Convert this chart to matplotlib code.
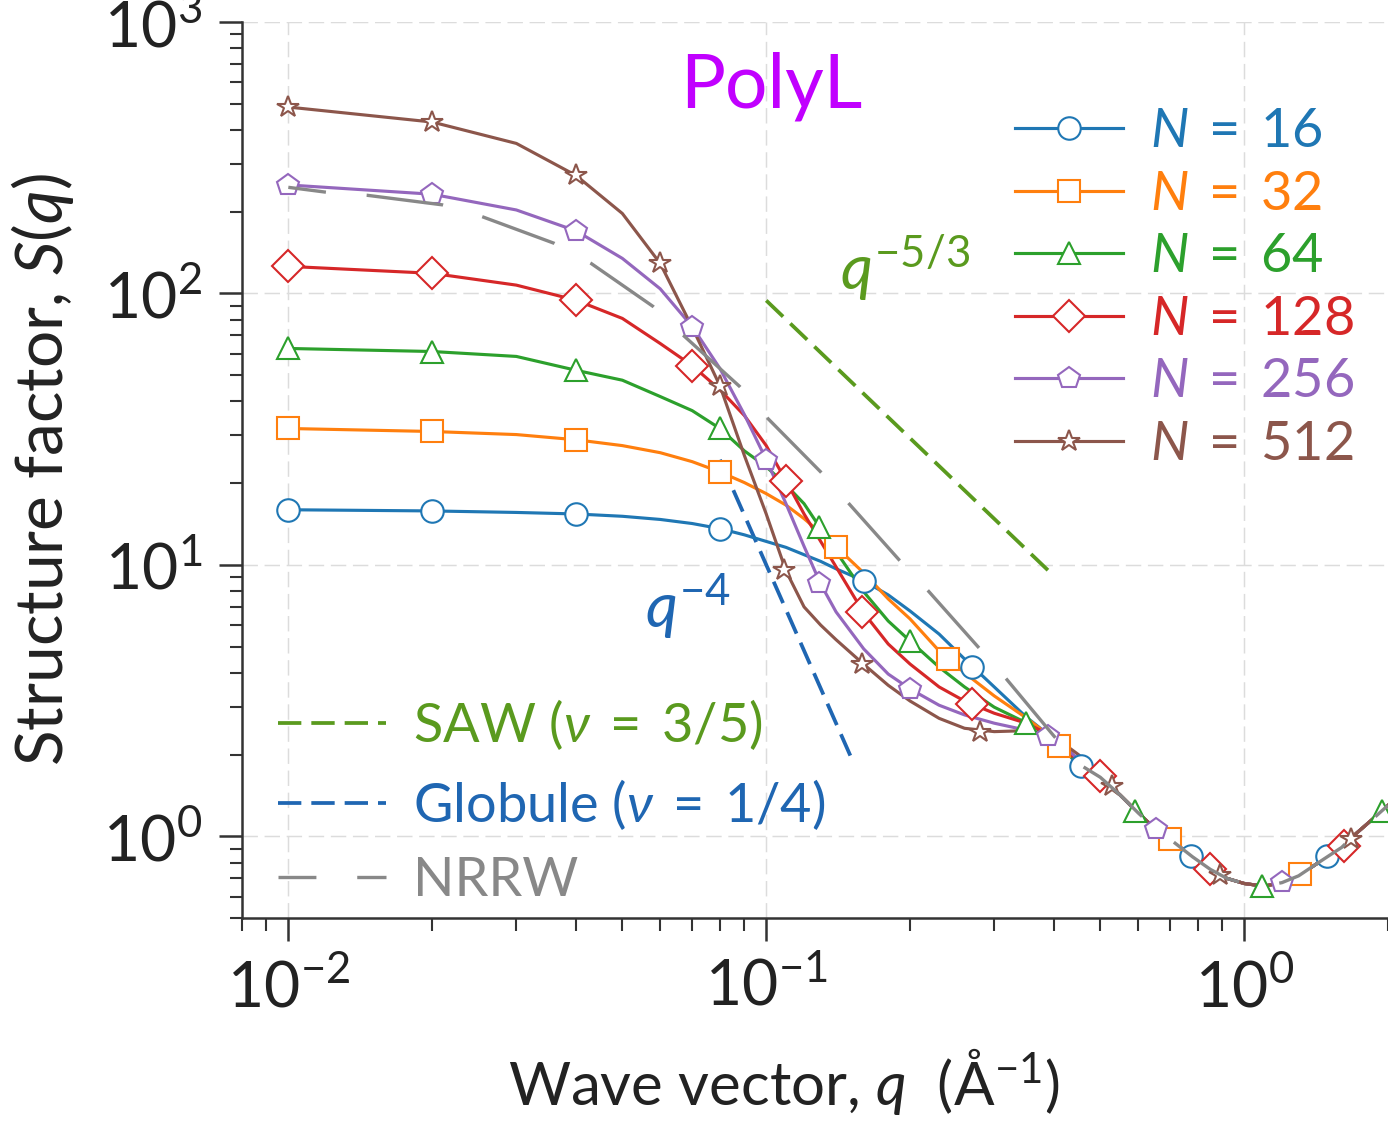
import matplotlib
matplotlib.use("Agg")
import matplotlib.pyplot as plt
from matplotlib.lines import Line2D

plt.rcParams['font.family'] = ['Lato', 'DejaVu Sans']
plt.rcParams['mathtext.fontset'] = 'custom'
plt.rcParams['mathtext.rm'] = 'Lato'
plt.rcParams['mathtext.it'] = 'Lato:italic'
plt.rcParams['mathtext.bf'] = 'Lato:bold'
plt.rcParams['lines.scale_dashes'] = False

# ---- data ----
q_lo = [0.01, 0.02, 0.03, 0.04, 0.05, 0.06, 0.07, 0.08, 0.09, 0.10, 0.11, 0.12,
        0.13, 0.14, 0.16, 0.18, 0.20, 0.23, 0.26, 0.30, 0.35, 0.40, 0.45, 0.50]
S16 = [15.96, 15.8, 15.6, 15.4, 15.1, 14.7, 14.2, 13.6, 12.9, 12.2, 11.6, 10.9,
       10.3, 9.67, 8.73, 7.75, 6.76, 5.56, 4.50, 3.55, 2.75, 2.28, 1.83, 1.65]
S32 = [31.8, 31.0, 30.2, 28.9, 27.5, 25.9, 24.0, 22.0, 20.1, 18.3, 16.6, 14.8,
       13.1, 11.65, 9.34, 7.49, 6.32, 4.82, 4.0, 3.29, 2.73, 2.28, 1.85, 1.65]
S64 = [62.7, 61.1, 58.6, 52.1, 47.9, 41.7, 37.0, 31.8, 26.3, 23.0, 19.7, 16.8,
       13.6, 11.2, 7.95, 6.21, 5.24, 4.20, 3.55, 2.99, 2.62, 2.28, 1.85, 1.65]
S128 = [125.8, 118.6, 107.3, 94.4, 80.9, 65.4, 54.2, 44.2, 35.5, 27.5, 20.4, 15.4,
        12.2, 9.83, 6.65, 5.11, 4.31, 3.55, 3.15, 2.84, 2.61, 2.32, 1.88, 1.67]
S256 = [251, 232, 203, 170, 134.6, 104, 75.5, 52.9, 35.8, 24.4, 16.8, 11.7,
        8.5, 6.71, 4.90, 3.96, 3.49, 3.04, 2.80, 2.61, 2.46, 2.32, 1.92, 1.66]
S512 = [486, 428, 357, 272, 197, 129, 75, 45.7, 25.3, 15.4, 9.5, 7.0,
        6.0, 5.3, 4.3, 3.6, 3.15, 2.72, 2.5, 2.43, 2.45, 2.33, 2.0, 1.68]

# all chains collapse onto one curve at large q
q_hi = [0.55, 0.6, 0.65, 0.7, 0.78, 0.85, 0.92, 1.0, 1.1, 1.2, 1.3, 1.4, 1.5,
        1.6, 1.7, 1.85, 2.0]
S_hi = [1.42, 1.22, 1.07, 0.975, 0.84, 0.755, 0.70, 0.67, 0.655, 0.675, 0.715,
        0.78, 0.845, 0.91, 1.01, 1.15, 1.30]

# marker positions
mq16 = [0.01, 0.02, 0.04, 0.08, 0.16, 0.27, 0.456, 0.775, 1.49]
mS16 = [15.96, 15.8, 15.4, 13.6, 8.73, 4.2, 1.81, 0.844, 0.846]
mq32 = [0.01, 0.02, 0.04, 0.08, 0.14, 0.24, 0.41, 0.70, 1.31]
mS32 = [31.8, 31.0, 28.9, 22.0, 11.65, 4.5, 2.15, 0.975, 0.724]
mq64 = [0.01, 0.02, 0.04, 0.08, 0.129, 0.20, 0.35, 0.59, 1.09, 1.94]
mS64 = [62.7, 61.1, 52.1, 31.8, 13.8, 5.24, 2.62, 1.24, 0.656, 1.24]
mq128 = [0.01, 0.02, 0.04, 0.07, 0.11, 0.159, 0.27, 0.50, 0.85, 1.62]
mS128 = [125.8, 118.6, 94.4, 54.2, 20.4, 6.69, 3.07, 1.67, 0.755, 0.921]
mq256 = [0.01, 0.02, 0.04, 0.07, 0.10, 0.129, 0.20, 0.388, 0.654, 1.20]
mS256 = [251, 232, 170, 75.5, 24.4, 8.6, 3.49, 2.35, 1.06, 0.68]
mq512 = [0.01, 0.02, 0.04, 0.06, 0.08, 0.109, 0.159, 0.28, 0.53, 0.89, 1.67]
mS512 = [486, 428, 272, 129, 45.7, 9.6, 4.31, 2.42, 1.53, 0.72, 0.98]

# NRRW reference curve
q_nrrw = [0.01, 0.012, 0.0146, 0.021, 0.0254, 0.036, 0.043, 0.058, 0.067, 0.088,
          0.10, 0.13, 0.149, 0.19, 0.218, 0.28, 0.318, 0.40, 0.45, 0.50]
S_nrrw = [246, 236, 230, 212, 192, 153, 129, 89.5, 70.2, 45.4,
          35.1, 22.0, 16.8, 10.4, 8.04, 4.90, 3.80, 2.34, 1.85, 1.65]

# power-law guides (end points)
q_saw = [0.1, 0.4]
S_saw = [94.2, 9.1]
q_glob = [0.08, 0.15]
S_glob = [24.4, 1.98]

chains = [16, 32, 64, 128, 256, 512]
S_series = [S16, S32, S64, S128, S256, S512]
mq_series = [mq16, mq32, mq64, mq128, mq256, mq512]
mS_series = [mS16, mS32, mS64, mS128, mS256, mS512]
colors = ['#1f77b4', '#ff7f0e', '#2ca02c', '#d62728', '#9467bd', '#8c564b']
markers = ['o', 's', '^', 'D', 'p', '*']

saw_color = '#5a9a1e'
glob_color = '#1f66b2'
nrrw_color = '#888888'

fig = plt.figure(figsize=(1388 / 300, 1121 / 300), dpi=300)
ax = fig.add_axes([242 / 1388, 203 / 1121, 1146 / 1388, 896 / 1121])

lw = 0.75
ms = 5.4
handles = []
for N, S, mq, mS, c, m in zip(chains, S_series, mq_series, mS_series, colors, markers):
    ax.plot(q_lo + q_hi, S + S_hi, color=c, lw=lw, zorder=3)
    ax.plot(mq, mS, ls='none', marker=m, ms=ms, mfc='white', mec=c, mew=0.5, zorder=4)
    handles.append(Line2D([], [], color=c, lw=lw, marker=m, ms=ms, mfc='white',
                          mec=c, mew=0.5, label=r'$N \;=\; %d$' % N))

h_saw, = ax.plot(q_saw, S_saw, color=saw_color, lw=0.9, ls=(0, (5.6, 2.4)),
                 label=r'SAW $(\nu \;=\; 3/5)$')
h_glob, = ax.plot(q_glob, S_glob, color=glob_color, lw=0.9, ls=(0, (5.6, 2.4)),
                  label=r'Globule $(\nu \;=\; 1/4)$')
h_nrrw, = ax.plot(q_nrrw + q_hi, S_nrrw + S_hi, color=nrrw_color, lw=0.8,
                  ls=(9.4, (18.5, 9.8)), label='NRRW', zorder=5)

ax.set_xscale('log')
ax.set_yscale('log')
ax.set_xlim(0.008, 2.0)
ax.set_ylim(0.5, 1000)

for side in ['top', 'right']:
    ax.spines[side].set_visible(False)
for side in ['left', 'bottom']:
    ax.spines[side].set_color('#333333')
    ax.spines[side].set_linewidth(0.6)

ax.grid(True, which='major', ls='--', lw=0.35, color='#dcdcdc')
ax.tick_params(which='major', length=5.5, width=0.6, color='#333333',
               labelsize=15, labelcolor='#222222', pad=4)
ax.tick_params(which='minor', length=3, width=0.5, color='#333333')

ax.set_xlabel(r'Wave vector, $q$  (Å$^{\mathregular{-1}}$)', fontsize=14.4,
              color='#222222')
ax.xaxis.set_label_coords((784 - 242) / 1146, -(1046 - 918) / 896)
ax.set_ylabel(r'Structure factor, $S(q)$', fontsize=15.8, color='#222222')
ax.yaxis.set_label_coords(-(242 - 76) / 1146, (918 - 470) / 896)

leg1 = ax.legend(handles=handles, loc='upper left', bbox_to_anchor=(1015 / 1388, 1 - 107 / 1121),
                 bbox_transform=fig.transFigure, frameon=False, fontsize=13,
                 handlelength=2.0, handletextpad=0.5, labelspacing=0.25, borderpad=0,
                 borderaxespad=0)
for t, c in zip(leg1.get_texts(), colors):
    t.set_color(c)
ax.add_artist(leg1)

leg2 = ax.legend(handles=[h_saw, h_glob, h_nrrw], loc='lower left',
                 bbox_to_anchor=(278 / 1388, 1 - 905 / 1121),
                 bbox_transform=fig.transFigure, frameon=False, fontsize=13,
                 handlelength=2.0, handletextpad=0.5, labelspacing=0.45, borderpad=0,
                 borderaxespad=0)
for t, c in zip(leg2.get_texts(), [saw_color, glob_color, nrrw_color]):
    t.set_color(c)

fig.text(680 / 1388, 1 - 108 / 1121, 'PolyL', color='#c100ff', fontsize=18,
         ha='left', va='baseline')
fig.text(840 / 1388, 1 - 290 / 1121, r'$q^{-5/3}$', color=saw_color, fontsize=15,
         ha='left', va='baseline')
fig.text(645 / 1388, 1 - 628 / 1121, r'$q^{-4}$', color=glob_color, fontsize=15,
         ha='left', va='baseline')

fig.savefig('out.png', dpi=300)
